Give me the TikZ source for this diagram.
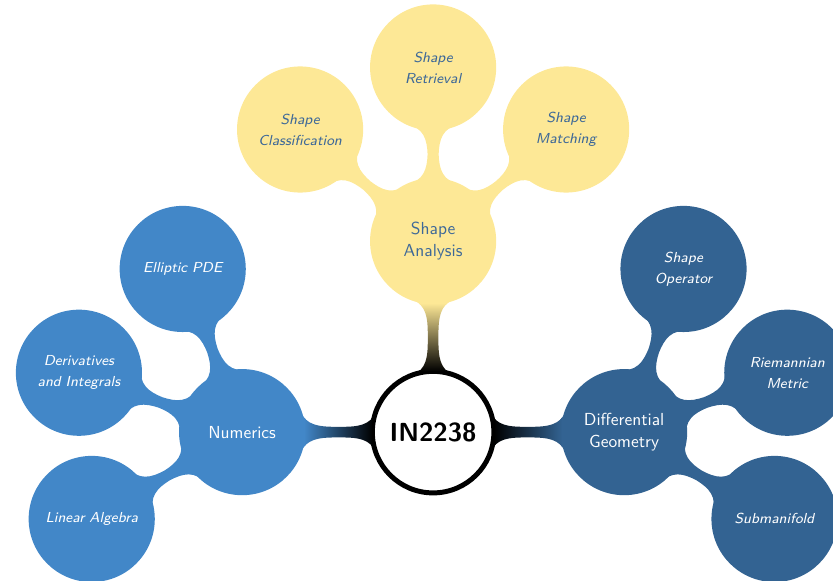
\documentclass[tikz,border=0pt]{standalone}
\usepackage{tikz}
\usetikzlibrary{mindmap}

\definecolor{numblue}{RGB}{66,135,200}
\definecolor{geoblue}{RGB}{51,99,146}
\definecolor{shapeyellow}{RGB}{253,232,150}
\definecolor{shapetext}{RGB}{61,104,152}

\begin{document}
\begin{tikzpicture}[mindmap,
    every node/.style={concept, circle, minimum size=2.5cm, text width=2.2cm,
        inner sep=0pt, align=center},
    rootnode/.style={concept color=black, fill=white, draw=black, line width=1mm,
        text=black, font=\sffamily\bfseries\fontsize{15pt}{18pt}\selectfont,
        minimum size=2.45cm, text width=2cm},
    topic/.style={font=\sffamily\fontsize{10pt}{13pt}\selectfont},
    subtopic/.style={font=\sffamily\itshape\fontsize{8.3pt}{12pt}\selectfont},
    level 1/.append style={level distance=3.85cm},
    level 2/.append style={level distance=3.5cm}]
    \useasboundingbox (-8.73,-3.0) rectangle (8.06,8.71);

    \node [rootnode] (root) {IN2238}
        child [grow=180, concept color=numblue, text=white] {node [topic] (num) {Numerics}
            child [grow=110] {node [subtopic] (pde) {Elliptic PDE}}
            child [grow=160] {node [subtopic] (deriv) {Derivatives\\and Integrals}}
            child [grow=210] {node [subtopic] (linalg) {Linear Algebra}}
        }
        child [grow=90, concept color=shapeyellow, text=shapetext] {node [topic] (shape) {Shape\\Analysis}
            child [grow=140] {node [subtopic] (classif) {Shape\\Classification}}
            child [grow=90] {node [subtopic] (retr) {Shape\\Retrieval}}
            child [grow=40] {node [subtopic] (match) {Shape\\Matching}}
        }
        child [grow=0, concept color=geoblue, text=white] {node [topic] (geo) {Differential\\Geometry}
            child [grow=70] {node [subtopic] (shapeop) {Shape\\Operator}}
            child [grow=20] {node [subtopic] (metric) {Riemannian\\Metric}}
            child [grow=-30] {node [subtopic] (submf) {Submanifold}}
        };
\end{tikzpicture}
\end{document}
